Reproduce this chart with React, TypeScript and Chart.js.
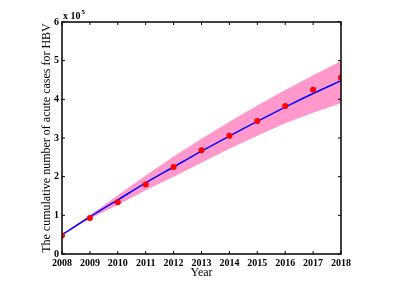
import React, { useEffect, useRef } from "react";
import { Chart, registerables } from "chart.js";

Chart.register(...registerables);

const years = [2008, 2009, 2010, 2011, 2012, 2013, 2014, 2015, 2016, 2017, 2018];
const observed = [0.48, 0.93, 1.34, 1.80, 2.25, 2.68, 3.06, 3.44, 3.83, 4.25, 4.56];
const fitted = [0.50, 0.96, 1.40, 1.84, 2.25, 2.66, 3.05, 3.43, 3.80, 4.15, 4.48];
const upperBound = [0.50, 1.00, 1.52, 2.03, 2.52, 2.98, 3.42, 3.84, 4.24, 4.62, 4.99];
const lowerBound = [0.48, 0.91, 1.27, 1.65, 2.00, 2.36, 2.72, 3.06, 3.38, 3.65, 3.90];
const yTicks = [0, 1, 2, 3, 4, 5, 6];
const xTitle = "Year";
const yTitle = "The cumulative number of acute cases for HBV";
const exponentLabel = "x 10";
const exponentPower = "5";

const serif = "'Liberation Serif', 'Times New Roman', serif";

const boxPlugin = {
  id: "matlabBox",
  afterDraw(chart: any) {
    const { ctx, chartArea, scales } = chart;
    const { left, right, top, bottom } = chartArea;
    ctx.save();
    ctx.strokeStyle = "#000";
    ctx.lineWidth = 1.5;
    ctx.strokeRect(left, top, right - left, bottom - top);
    ctx.lineWidth = 1;
    const tl = 3;
    years.forEach((v) => {
      const px = scales.x.getPixelForValue(v);
      ctx.beginPath();
      ctx.moveTo(px, bottom);
      ctx.lineTo(px, bottom - tl);
      ctx.moveTo(px, top);
      ctx.lineTo(px, top + tl);
      ctx.stroke();
    });
    yTicks.forEach((v) => {
      const py = scales.y.getPixelForValue(v);
      ctx.beginPath();
      ctx.moveTo(left, py);
      ctx.lineTo(left + tl, py);
      ctx.moveTo(right, py);
      ctx.lineTo(right - tl, py);
      ctx.stroke();
    });
    ctx.fillStyle = "#000";
    ctx.textBaseline = "alphabetic";
    ctx.textAlign = "left";
    ctx.font = `bold 10px ${serif}`;
    ctx.fillText(exponentLabel, left + 1, top - 3);
    const w = ctx.measureText(exponentLabel).width;
    ctx.font = `bold 7px ${serif}`;
    ctx.fillText(exponentPower, left + 1 + w + 1, top - 8);
    ctx.restore();
  },
};

export default function App() {
  const ref = useRef<HTMLCanvasElement>(null);
  useEffect(() => {
    if (!ref.current) return;
    const chart = new Chart(ref.current, {
      type: "line",
      data: {
        datasets: [
          {
            label: "upper",
            data: years.map((x, i) => ({ x, y: upperBound[i] })),
            borderWidth: 0,
            pointRadius: 0,
            backgroundColor: "#FF99CC",
            borderColor: "rgba(0,0,0,0)",
            fill: "+1",
            order: 3,
          },
          {
            label: "lower",
            data: years.map((x, i) => ({ x, y: lowerBound[i] })),
            borderWidth: 0,
            pointRadius: 0,
            borderColor: "rgba(0,0,0,0)",
            fill: false,
            order: 2,
          },
          {
            label: "fitted",
            data: years.map((x, i) => ({ x, y: fitted[i] })),
            borderColor: "#0000FF",
            borderWidth: 1.5,
            pointRadius: 0,
            fill: false,
            tension: 0.3,
            order: 1,
          },
          {
            label: "observed",
            data: years.map((x, i) => ({ x, y: observed[i] })),
            showLine: false,
            pointRadius: 3,
            pointBackgroundColor: "#FF0000",
            pointBorderColor: "#FF0000",
            pointBorderWidth: 0,
            order: 0,
          },
        ],
      },
      options: {
        animation: false,
        responsive: false,
        devicePixelRatio: 1,
        layout: { padding: { left: 34, right: 62, top: 22, bottom: 9 } },
        plugins: { legend: { display: false }, tooltip: { enabled: false } },
        scales: {
          x: {
            type: "linear",
            min: 2008,
            max: 2018,
            grid: { display: false, drawTicks: false },
            border: { display: false },
            afterBuildTicks: (s: any) => {
              s.ticks = years.map((v) => ({ value: v }));
            },
            afterFit: (s: any) => {
              s.height = 26;
            },
            ticks: {
              padding: 3,
              color: "#000",
              font: { family: serif, size: 10, weight: "bold" },
              maxRotation: 0,
              callback: (v: any) => String(v),
            },
            title: {
              display: true,
              text: xTitle,
              color: "#000",
              font: { family: serif, size: 12 },
              padding: { top: 0, bottom: 0 },
            },
          },
          y: {
            type: "linear",
            min: 0,
            max: 6,
            grid: { display: false, drawTicks: false },
            border: { display: false },
            afterBuildTicks: (s: any) => {
              s.ticks = yTicks.map((v) => ({ value: v }));
            },
            afterFit: (s: any) => {
              s.width = 28;
            },
            ticks: {
              padding: 3,
              color: "#000",
              font: { family: serif, size: 10, weight: "bold" },
              callback: (v: any) => String(v),
            },
            title: {
              display: true,
              text: yTitle,
              color: "#000",
              font: { family: serif, size: 12 },
              padding: { top: 6, bottom: 0 },
            },
          },
        },
      },
      plugins: [boxPlugin],
    });
    return () => chart.destroy();
  }, []);
  return (
    <div style={{ position: "fixed", left: 0, top: 0, width: 403, height: 289, background: "#fff" }}>
      <canvas ref={ref} width={403} height={289} style={{ width: 403, height: 289 }} />
    </div>
  );
}
